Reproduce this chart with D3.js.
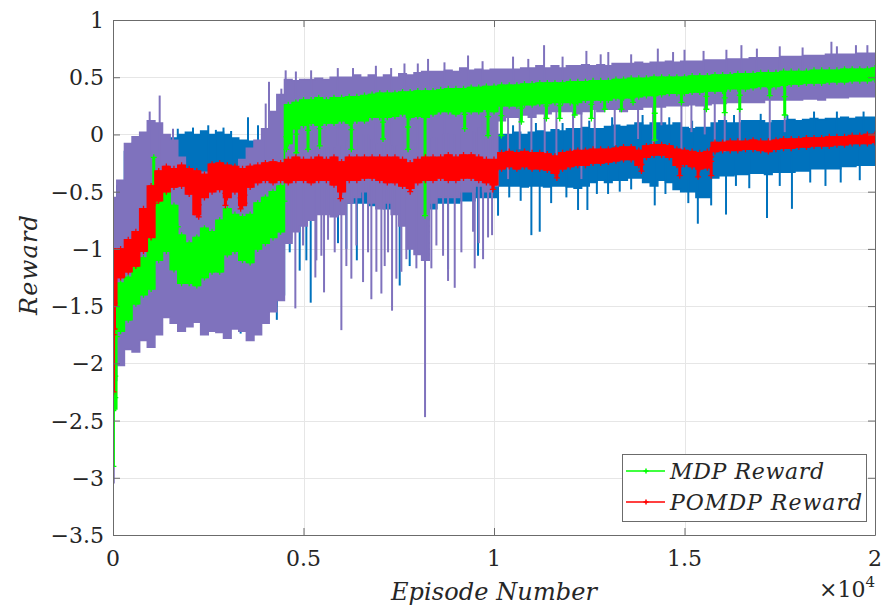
<!DOCTYPE html>
<html>
<head>
<meta charset="utf-8">
<script src="https://cdn.jsdelivr.net/npm/d3@7"></script>
<style>
  body { margin: 0; background: #fff; }
  svg text { font-family: "DejaVu Serif", "Liberation Serif", "Noto Serif", serif; }
</style>
</head>
<body>
<svg id="chart" width="886" height="608"></svg>
<script>
// episode grid of the readings (every 200 episodes)
var episodes = d3.range(0, 20001, 200);

// purple raw reward band (upper / lower edge of the dense noise)
var purpleHi = [-0.55,-0.4,-0.08,-0.02,0.02,0.12,0.1,0.0,-0.05,-0.2,-0.3,-0.35,-0.33,-0.38,-0.32,-0.38,-0.3,-0.22,-0.12,-0.05,
  0.05,0.2,0.35,0.48,0.47,0.48,0.48,0.49,0.48,0.5,0.5,0.5,0.52,0.5,0.52,0.5,0.52,0.5,0.53,0.52,
  0.54,0.55,0.55,0.55,0.56,0.55,0.58,0.56,0.57,0.56,0.57,0.57,0.57,0.57,0.58,0.58,0.6,0.58,0.6,0.58,
  0.6,0.6,0.61,0.6,0.61,0.6,0.62,0.62,0.62,0.63,0.62,0.63,0.63,0.64,0.63,0.64,0.64,0.64,0.65,0.65,
  0.65,0.66,0.66,0.66,0.67,0.67,0.67,0.67,0.68,0.68,0.68,0.69,0.69,0.69,0.7,0.7,0.7,0.7,0.71,0.71,0.71];
var purpleLo = [-2.15,-2.02,-1.88,-1.9,-1.8,-1.86,-1.75,-1.6,-1.65,-1.72,-1.68,-1.64,-1.75,-1.72,-1.73,-1.78,-1.7,-1.72,-1.8,-1.75,
  -1.65,-1.55,-1.45,-0.95,-0.85,-0.8,-0.75,-0.7,-0.7,-0.72,-0.7,-0.6,-0.55,-0.5,-0.6,-0.65,-0.6,-0.7,-0.8,-1.0,
  -1.05,-1.1,-0.6,-0.55,-0.55,-0.55,-0.5,-0.5,-0.45,-0.5,-0.45,0.12,0.15,0.15,0.17,0.15,0.18,0.18,0.2,0.2,
  0.2,0.18,0.2,0.22,0.2,0.22,0.22,0.2,0.22,0.22,0.24,0.24,0.24,0.25,0.25,0.25,0.26,0.25,0.26,0.27,
  0.27,0.28,0.28,0.28,0.28,0.28,0.3,0.3,0.3,0.3,0.3,0.31,0.31,0.3,0.32,0.32,0.32,0.33,0.33,0.33,0.33];

// blue raw reward band
var blueHi = [-0.6,-0.45,-0.15,-0.08,-0.02,0.0,-0.05,-0.04,-0.03,0.0,0.02,0.0,0.03,0.0,0.02,0.0,-0.03,-0.05,-0.06,-0.1,
  -0.12,-0.1,-0.1,0.0,0.0,0.0,0.0,0.0,0.0,0.0,0.0,0.0,0.0,0.0,0.0,0.0,0.0,0.0,0.0,0.0,
  0.0,0.0,0.0,0.0,0.0,0.0,0.0,0.0,0.0,0.0,0.0,0.0,0.0,0.02,0.0,0.02,0.03,0.02,0.04,0.03,
  0.05,0.05,0.06,0.05,0.05,0.07,0.08,0.07,0.08,0.1,0.08,0.1,0.1,0.08,0.1,0.06,0.05,0.06,0.06,0.1,
  0.12,0.1,0.1,0.12,0.12,0.12,0.1,0.12,0.12,0.13,0.12,0.13,0.14,0.13,0.14,0.14,0.15,0.14,0.15,0.15,0.15];
var blueLo = [-1.25,-1.5,-1.6,-1.6,-1.6,-1.6,-1.55,-1.5,-1.5,-1.5,-1.55,-1.55,-1.6,-1.6,-1.6,-1.65,-1.68,-1.65,-1.7,-1.6,
  -1.55,-1.5,-1.4,-0.7,-0.7,-0.7,-0.65,-0.65,-0.62,-0.62,-0.65,-0.6,-0.6,-0.6,-0.62,-0.62,-0.65,-0.65,-0.7,-0.75,
  -0.75,-0.75,-0.65,-0.6,-0.6,-0.6,-0.58,-0.58,-0.55,-0.55,-0.55,-0.45,-0.45,-0.45,-0.46,-0.45,-0.45,-0.46,-0.45,-0.45,
  -0.46,-0.47,-0.45,-0.42,-0.4,-0.42,-0.4,-0.4,-0.38,-0.38,-0.42,-0.45,-0.4,-0.42,-0.48,-0.5,-0.5,-0.55,-0.55,-0.38,
  -0.36,-0.36,-0.35,-0.35,-0.34,-0.34,-0.35,-0.33,-0.33,-0.33,-0.32,-0.32,-0.3,-0.3,-0.3,-0.3,-0.28,-0.28,-0.27,-0.27,-0.27];

// MDP reward (green)
var mdpHi = [-1.45,-1.3,-1.25,-1.15,-1.08,-0.88,-0.55,-0.45,-0.62,-0.88,-0.95,-0.9,-0.82,-0.85,-0.75,-0.65,-0.7,-0.72,-0.7,-0.6,
  -0.55,-0.5,-0.45,0.26,0.28,0.3,0.3,0.32,0.3,0.32,0.32,0.33,0.33,0.34,0.35,0.36,0.36,0.36,0.37,0.37,
  0.38,0.38,0.38,0.39,0.4,0.4,0.4,0.41,0.41,0.42,0.42,0.43,0.43,0.43,0.44,0.44,0.45,0.45,0.45,0.45,
  0.46,0.46,0.46,0.47,0.47,0.47,0.48,0.48,0.49,0.49,0.49,0.5,0.5,0.5,0.5,0.5,0.51,0.51,0.51,0.52,
  0.52,0.52,0.53,0.53,0.53,0.54,0.54,0.54,0.55,0.55,0.55,0.55,0.56,0.56,0.56,0.56,0.57,0.57,0.57,0.57,0.58];
var mdpLo = [-2.4,-1.72,-1.62,-1.48,-1.4,-1.35,-1.1,-1.02,-1.18,-1.3,-1.3,-1.32,-1.25,-1.2,-1.2,-1.05,-1.02,-1.1,-1.12,-1.0,
  -0.95,-0.9,-0.85,-0.08,0.05,0.08,0.1,0.08,0.1,0.1,0.12,0.1,0.12,0.12,0.15,0.15,0.15,0.16,0.18,0.15,
  0.16,0.15,0.18,0.2,0.2,0.18,0.2,0.2,0.2,0.22,0.2,0.25,0.25,0.25,0.26,0.26,0.27,0.27,0.28,0.28,
  0.28,0.28,0.3,0.3,0.3,0.3,0.32,0.32,0.32,0.33,0.34,0.34,0.35,0.36,0.36,0.36,0.37,0.37,0.38,0.38,
  0.38,0.4,0.4,0.4,0.41,0.42,0.42,0.42,0.43,0.44,0.44,0.45,0.45,0.45,0.46,0.46,0.46,0.47,0.47,0.47,0.48];

// POMDP reward (red)
var pomdpHi = [-1.0,-1.0,-0.92,-0.85,-0.65,-0.45,-0.32,-0.28,-0.3,-0.27,-0.3,-0.32,-0.35,-0.26,-0.25,-0.27,-0.28,-0.3,-0.28,-0.27,
  -0.25,-0.24,-0.25,-0.22,-0.2,-0.22,-0.22,-0.2,-0.22,-0.2,-0.24,-0.2,-0.2,-0.2,-0.2,-0.2,-0.2,-0.2,-0.22,-0.25,
  -0.22,-0.2,-0.2,-0.2,-0.18,-0.2,-0.18,-0.18,-0.2,-0.22,-0.22,-0.16,-0.15,-0.16,-0.15,-0.16,-0.16,-0.17,-0.19,-0.16,
  -0.15,-0.14,-0.14,-0.13,-0.13,-0.13,-0.12,-0.11,-0.11,-0.14,-0.1,-0.09,-0.09,-0.1,-0.13,-0.14,-0.15,-0.16,-0.15,-0.07,
  -0.07,-0.06,-0.06,-0.06,-0.05,-0.06,-0.06,-0.05,-0.04,-0.04,-0.04,-0.03,-0.03,-0.03,-0.02,-0.02,-0.02,-0.01,-0.01,0.0,0.0];
var pomdpLo = [-1.5,-1.25,-1.2,-1.15,-1.02,-0.9,-0.58,-0.5,-0.46,-0.45,-0.52,-0.7,-0.55,-0.5,-0.48,-0.55,-0.5,-0.62,-0.46,-0.42,
  -0.4,-0.42,-0.4,-0.42,-0.4,-0.4,-0.42,-0.4,-0.4,-0.44,-0.5,-0.4,-0.4,-0.38,-0.38,-0.4,-0.42,-0.42,-0.45,-0.47,
  -0.42,-0.4,-0.4,-0.38,-0.4,-0.4,-0.38,-0.38,-0.4,-0.42,-0.44,-0.3,-0.28,-0.3,-0.28,-0.3,-0.3,-0.31,-0.34,-0.3,
  -0.28,-0.27,-0.27,-0.25,-0.25,-0.24,-0.23,-0.22,-0.22,-0.27,-0.2,-0.18,-0.18,-0.2,-0.27,-0.26,-0.28,-0.3,-0.29,-0.15,
  -0.14,-0.14,-0.14,-0.13,-0.13,-0.14,-0.15,-0.13,-0.12,-0.12,-0.11,-0.11,-0.1,-0.1,-0.1,-0.09,-0.09,-0.08,-0.08,-0.08,-0.07];

// isolated spikes and teeth [episode, value]
var purpleSpikes = [[20,-3.05],[60,-2.25],[963,0.2],[1225,0.34],[1575,0.05],[4008,0.27],[4095,0.46],[4419,0.4],[4532,0.56],
  [4594,-0.8],[4681,-0.91],[4786,-1.52],[4800,0.55],[4988,-0.97],[5200,0.56],[5311,-1.25],[5338,-1.1],[5469,-1.06],
  [5539,-1.38],[5644,-0.92],[5819,-1.03],[5900,0.58],[5994,-1.71],[6125,-1.15],[6256,-1.26],[6300,0.58],[6388,-0.97],
  [6563,-1.29],[6694,-1.03],[6781,-1.44],[6900,0.6],[6913,-1.2],[7044,-1.39],[7131,-1.15],[7219,-1.03],[7300,0.58],
  [7324,-1.54],[7438,-1.26],[7569,-1.2],[7650,0.62],[7700,-1.09],[7963,-1.17],[8000,0.62],[8190,-2.47],[8269,0.66],
  [8356,-1.17],[8488,-0.97],[8663,-1.06],[8700,0.63],[8794,-1.28],[8969,-1.34],[9144,-1.03],[9319,0.69],[9450,-0.85],
  [9494,-1.17],[9600,-0.95],[9700,0.64],[9713,-1.09],[9844,-0.9],[9949,-0.88],
  [10369,-0.39],[10500,0.68],[10675,-0.13],[10900,0.66],[10981,-0.27],[11314,0.78],[11331,-0.18],[11638,-0.33],
  [11800,0.68],[12075,-0.18],[12294,-0.39],[12425,0.73],[12644,-0.13],[12800,0.7],[13000,0.72],[13169,-0.1],
  [13600,0.7],[13781,-0.04],[14175,-0.13],[14300,0.75],[14394,0.08],[14700,0.72],[14919,-0.13],[15000,0.74],
  [15181,0.02],[15500,0.73],[15531,0.0],[15794,-0.1],[16056,-0.15],[16100,0.74],[16450,-0.1],[16494,0.78],
  [16900,0.75],[17238,-0.07],[17500,0.77],[17631,0.02],[18100,0.76],[18856,0.81],[19000,0.77],[19500,0.78],[19800,0.78]];
var blueSpikes = [[5,-1.3],[1700,0.05],[2100,0.06],[2500,0.08],[2700,0.04],[2900,0.06],[3100,0.03],[3350,-1.74],
  [3543,0.15],[3806,0.08],[4300,-1.62],[4638,-1.03],[4900,-1.19],[5075,-1.1],[5189,-1.47],[5906,-0.95],[6125,-1.0],
  [6400,-1.1],[7525,-1.32],[7787,-1.15],[8794,-1.18],[9581,-1.06],[10106,-0.71],[10400,-0.55],[10500,0.08],
  [10700,-0.58],[10981,-0.88],[11100,0.1],[11200,-0.85],[11500,-0.6],[11800,0.1],[11900,-0.55],[12206,-0.66],
  [12451,-0.66],[12500,0.12],[12700,-0.52],[12994,-0.52],[13100,0.15],[13300,-0.5],[13600,-0.48],[13900,0.17],
  [14219,-0.62],[14500,-0.52],[14600,0.15],[15100,-0.6],[15200,0.12],[15350,-0.78],[15700,-0.62],[16090,-0.7],
  [16300,0.17],[16350,-0.45],[16700,-0.47],[17000,0.18],[17165,-0.73],[17500,-0.45],[17700,0.17],[17820,-0.65],
  [18300,-0.42],[18400,0.2],[18700,-0.45],[19000,0.2],[19100,-0.42],[19600,-0.4],[19700,0.2]];
var mdpSpikes = [[10,-2.9],[60,-2.3],[1070,-0.2],[4550,-0.13],[4812,-0.16],[5119,-0.13],[5425,-0.1],[6256,-0.13],
  [7087,-0.04],[7744,-0.13],[8190,-0.71],[9231,0.05],[9844,-0.01],[10194,-0.01],[10719,0.11],[11375,0.14],
  [11725,0.14],[12119,0.17],[12556,0.14],[12906,0.22],[13344,0.22],[13650,0.28],[14219,-0.05],[14919,0.28],
  [15575,0.22],[16056,0.19],[16450,0.22],[17238,0.34],[17631,0.17]];
var pomdpSpikes = [[15,-2.25],[40,-1.7],[2250,-0.72],[2950,-0.62],[3350,-0.65],[3450,-0.6],[5970,-0.56],
  [7800,-0.5],[9970,-0.48],[11650,-0.38],[13870,-0.32],[14875,-0.36],[15356,-0.37],[15700,-0.36]];

// axis ticks
var xTicks = [0, 5000, 10000, 15000, 20000];
var xTickLabels = ["0", "0.5", "1", "1.5", "2"];
var yTicks = [-3.5, -3, -2.5, -2, -1.5, -1, -0.5, 0, 0.5, 1];
var yTickLabels = ["\u22123.5", "\u22123", "\u22122.5", "\u22122", "\u22121.5", "\u22121", "\u22120.5", "0", "0.5", "1"];
var legendNames = ["MDP Reward", "POMDP Reward"];

var plotLeft = 113, plotRight = 875, plotTop = 20, plotBottom = 535;
var x = d3.scaleLinear().domain([0, 20000]).range([plotLeft, plotRight]);
var y = d3.scaleLinear().domain([-3.5, 1]).range([plotBottom, plotTop]);

var svg = d3.select("#chart");
var textColor = "#262626";

svg.append("defs").append("clipPath").attr("id", "plot")
  .append("rect").attr("x", plotLeft).attr("y", plotTop)
  .attr("width", plotRight - plotLeft).attr("height", plotBottom - plotTop);

// grid
var grid = svg.append("g").attr("stroke", "#e6e6e6").attr("stroke-width", 1);
grid.selectAll(".gx").data(xTicks).enter().append("line")
  .attr("x1", function (d) { return Math.round(x(d)) + 0.5; })
  .attr("x2", function (d) { return Math.round(x(d)) + 0.5; })
  .attr("y1", plotTop).attr("y2", plotBottom);
grid.selectAll(".gy").data(yTicks).enter().append("line")
  .attr("y1", function (d) { return Math.round(y(d)) + 0.5; })
  .attr("y2", function (d) { return Math.round(y(d)) + 0.5; })
  .attr("x1", plotLeft).attr("x2", plotRight);

function rows(hi, lo) {
  return episodes.map(function (e, i) { return { e: e, hi: hi[i], lo: lo[i] }; });
}

var band = d3.area()
  .x(function (d) { return x(d.e); })
  .y0(function (d) { return y(d.lo); })
  .y1(function (d) { return y(d.hi); })
  .curve(d3.curveStep);

var plot = svg.append("g").attr("clip-path", "url(#plot)");

function baseAt(hi, lo, e) {
  var i = Math.max(0, Math.min(episodes.length - 1, Math.round(e / 200)));
  return (hi[i] + lo[i]) / 2;
}

var plus = "M-3,0H3M0,-3V3";

function drawSeries(hi, lo, spikes, color, spikeWidth, markers) {
  var g = plot.append("g");
  var data = rows(hi, lo);
  g.append("path").datum(data)
    .attr("d", band)
    .attr("fill", color)
    .attr("stroke", color)
    .attr("stroke-width", 1.5);
  g.selectAll(".spike").data(spikes).enter().append("line")
    .attr("x1", function (d) { return x(d[0]); })
    .attr("x2", function (d) { return x(d[0]); })
    .attr("y1", function (d) { return y(baseAt(hi, lo, d[0])); })
    .attr("y2", function (d) { return y(d[1]); })
    .attr("stroke", color)
    .attr("stroke-width", spikeWidth);
  if (markers) {
    var pts = [];
    data.forEach(function (d) {
      pts.push([d.e, d.hi]);
      pts.push([d.e, d.lo]);
      pts.push([d.e + 100, (d.hi * 2 + d.lo) / 3]);
    });
    spikes.forEach(function (d) {
      pts.push(d);
      pts.push([d[0], (d[1] + baseAt(hi, lo, d[0])) / 2]);
    });
    g.selectAll(".mk").data(pts).enter().append("path")
      .attr("d", plus)
      .attr("transform", function (d) { return "translate(" + x(d[0]) + "," + y(d[1]) + ")"; })
      .attr("stroke", color)
      .attr("stroke-width", 1.3)
      .attr("fill", "none");
  }
}

drawSeries(blueHi, blueLo, blueSpikes, "#0072bd", 2, false);
drawSeries(purpleHi, purpleLo, purpleSpikes, "#7f72bd", 2, false);
drawSeries(mdpHi, mdpLo, mdpSpikes, "#00ff00", 3, true);
drawSeries(pomdpHi, pomdpLo, pomdpSpikes, "#ff0000", 3, true);

// axes box and inward ticks
var axisColor = "#6b6b6b";
function styleAxis(g) {
  g.selectAll("path.domain").attr("stroke", axisColor);
  g.selectAll(".tick line").attr("stroke", axisColor);
  g.selectAll(".tick text").remove();
}
svg.append("g").attr("transform", "translate(0," + plotBottom + ")")
  .call(d3.axisBottom(x).tickValues(xTicks).tickSize(-7).tickSizeOuter(0)).call(styleAxis);
svg.append("g").attr("transform", "translate(0," + plotTop + ")")
  .call(d3.axisTop(x).tickValues(xTicks).tickSize(-7).tickSizeOuter(0)).call(styleAxis);
svg.append("g").attr("transform", "translate(" + plotLeft + ",0)")
  .call(d3.axisLeft(y).tickValues(yTicks).tickSize(-7).tickSizeOuter(0)).call(styleAxis);
svg.append("g").attr("transform", "translate(" + plotRight + ",0)")
  .call(d3.axisRight(y).tickValues(yTicks).tickSize(-7).tickSizeOuter(0)).call(styleAxis);

// tick labels
svg.selectAll(".xl").data(xTicks).enter().append("text")
  .attr("x", function (d) { return x(d); })
  .attr("y", 566)
  .attr("text-anchor", "middle")
  .attr("font-size", 22)
  .attr("fill", textColor)
  .text(function (d, i) { return xTickLabels[i]; });
svg.selectAll(".yl").data(yTicks).enter().append("text")
  .attr("x", 104)
  .attr("y", function (d) { return y(d) + 8; })
  .attr("text-anchor", "end")
  .attr("font-size", 22)
  .attr("fill", textColor)
  .text(function (d, i) { return yTickLabels[i]; });

// exponent
var ex = svg.append("text").attr("x", 875).attr("y", 597).attr("text-anchor", "end")
  .attr("font-size", 22).attr("fill", textColor);
ex.append("tspan").text("\u00d710");
ex.append("tspan").attr("dy", -10).attr("font-size", 15).text("4");

// axis titles
svg.append("text")
  .attr("x", (plotLeft + plotRight) / 2).attr("y", 600)
  .attr("text-anchor", "middle")
  .attr("font-size", 24).attr("font-style", "italic").attr("fill", textColor)
  .attr("textLength", 206).attr("lengthAdjust", "spacing")
  .text("Episode Number");
svg.append("text")
  .attr("transform", "translate(37,265) rotate(-90)")
  .attr("text-anchor", "middle")
  .attr("font-size", 24).attr("font-style", "italic").attr("fill", textColor)
  .attr("textLength", 100).attr("lengthAdjust", "spacing")
  .text("Reward");

// legend
var legend = svg.append("g");
legend.append("rect").attr("x", 622.5).attr("y", 454.5).attr("width", 244).attr("height", 67)
  .attr("fill", "#fff").attr("stroke", "#6b6b6b");
var legendColors = ["#00ff00", "#ff0000"];
var legendWidths = [154, 192];
var items = legend.selectAll(".item").data(legendNames).enter().append("g")
  .attr("transform", function (d, i) { return "translate(0," + (471 + i * 31) + ")"; });
items.append("line").attr("x1", 626).attr("x2", 665).attr("y1", 0).attr("y2", 0)
  .attr("stroke", function (d, i) { return legendColors[i]; }).attr("stroke-width", 1.3);
items.append("path").attr("d", "M-2.5,0H2.5M0,-2.5V2.5").attr("transform", "translate(646,0)")
  .attr("stroke", function (d, i) { return legendColors[i]; }).attr("stroke-width", 1.5);
items.append("text").attr("x", 670).attr("y", 8)
  .attr("font-size", 22).attr("font-style", "italic").attr("fill", textColor)
  .attr("textLength", function (d, i) { return legendWidths[i]; }).attr("lengthAdjust", "spacing")
  .text(function (d) { return d; });
</script>
</body>
</html>
